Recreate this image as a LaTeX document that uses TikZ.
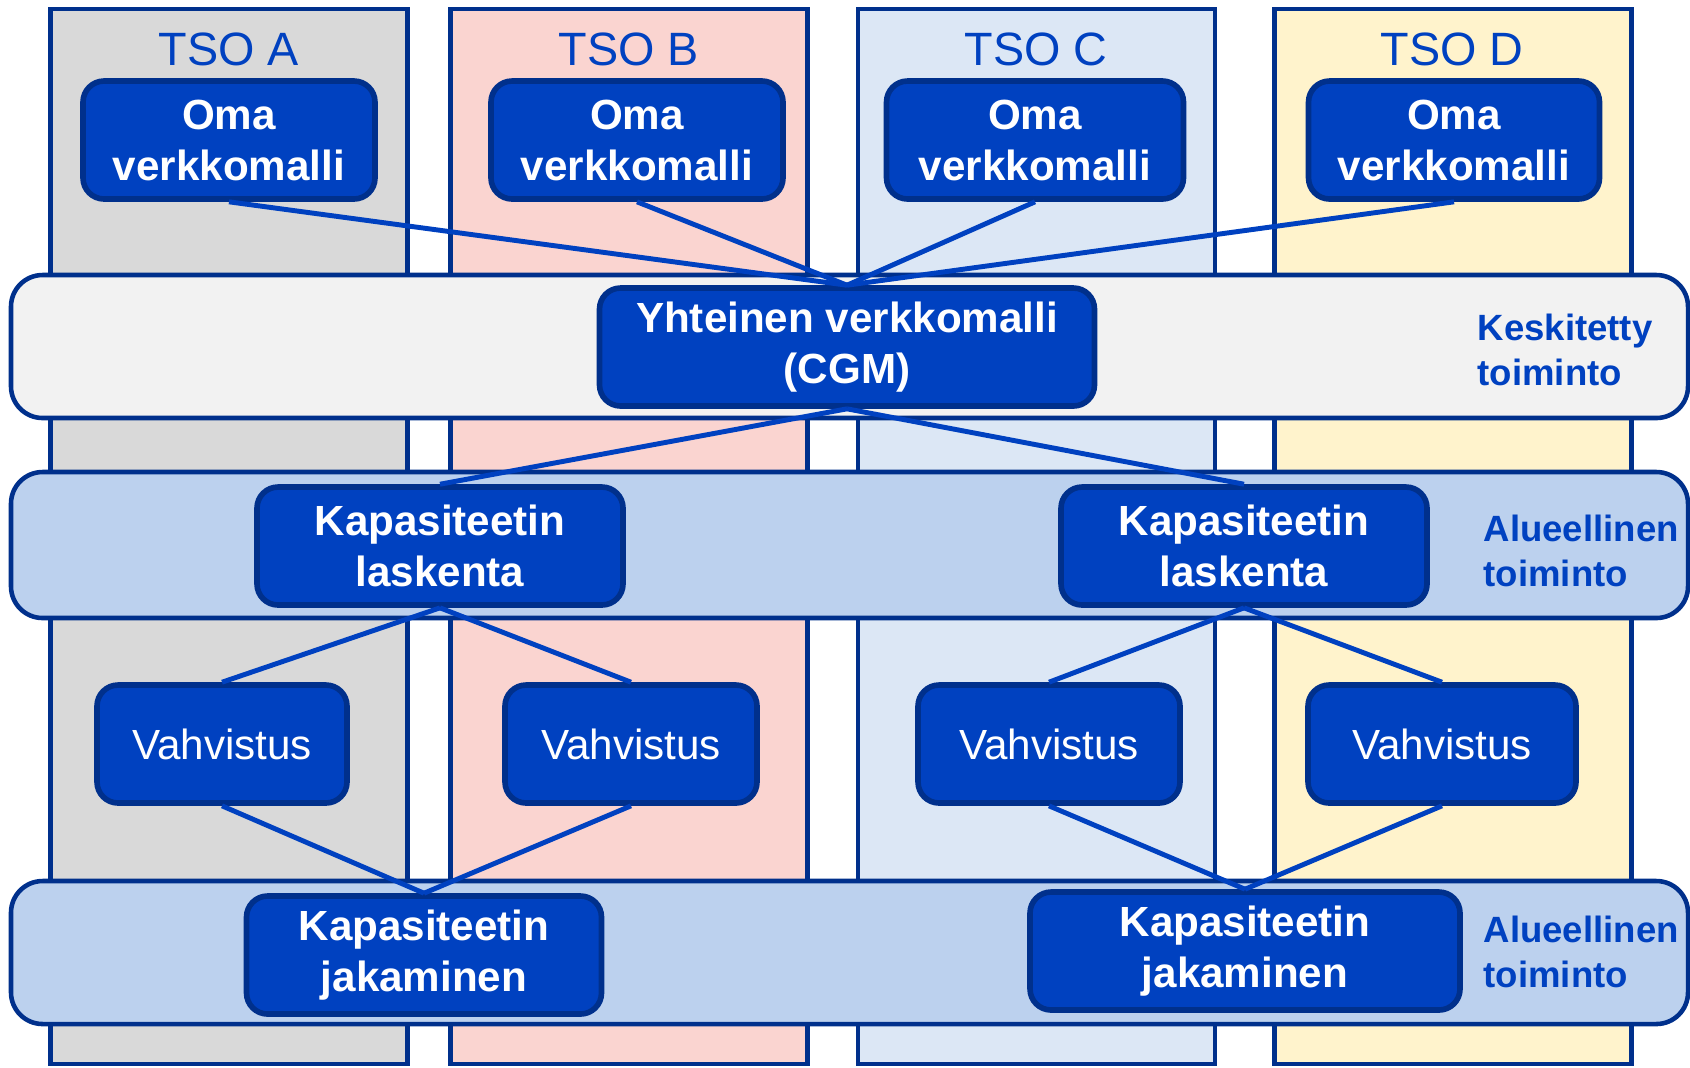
\documentclass[tikz,border=0pt]{standalone}
\usepackage{fontspec}
\setmainfont{Liberation Sans}
\usetikzlibrary{positioning}

\definecolor{boxblue}{HTML}{0041C0}
\definecolor{navy}{HTML}{00308C}
\definecolor{colA}{HTML}{D9D9D9}
\definecolor{colB}{HTML}{FAD4D0}
\definecolor{colC}{HTML}{DCE7F5}
\definecolor{colD}{HTML}{FFF3CC}
\definecolor{bandgray}{HTML}{F2F2F2}
\definecolor{bandblue}{HTML}{BCD1EE}

\begin{document}
\begin{tikzpicture}[
    tsocol/.style={rectangle, draw=navy, line width=1.3pt, minimum width=3.57cm,
                   minimum height=10.55cm, inner sep=0pt},
    band/.style={rectangle, rounded corners=9pt, draw=navy, line width=1.3pt,
                 minimum width=16.77cm, inner sep=0pt},
    box/.style={rectangle, rounded corners=6pt, draw=navy, fill=boxblue, line width=1.6pt,
                minimum height=1.18cm, text=white, align=center, inner sep=0pt,
                font=\fontsize{12}{14.5}\selectfont\bfseries},
    plainbox/.style={box, font=\fontsize{12}{14.5}\selectfont},
    link/.style={draw=boxblue, line width=1.4pt},
    tsolabel/.style={text=boxblue, font=\fontsize{13.3}{16}\selectfont},
    tier/.style={text=boxblue, align=left, anchor=west, inner sep=0pt,
                 font=\fontsize{10.4}{12.8}\selectfont\bfseries}
]
    \useasboundingbox (0,0) rectangle (16.9,-10.67);

    % TSO columns
    \node[tsocol, fill=colA] (colA) at (2.29, -5.365) {};
    \node[tsocol, fill=colB] (colB) at (6.29, -5.365) {};
    \node[tsocol, fill=colC] (colC) at (10.365, -5.365) {};
    \node[tsocol, fill=colD] (colD) at (14.53, -5.365) {};
    \node[tsolabel] (tsoA) at (2.29, -0.49) {TSO A};
    \node[tsolabel] (tsoB) at (6.29, -0.49) {TSO B};
    \node[tsolabel] (tsoC) at (10.36, -0.49) {TSO C};
    \node[tsolabel] (tsoD) at (14.52, -0.49) {TSO D};

    % Function bands
    \node[band, fill=bandgray, minimum height=1.43cm] (central) at (8.495, -3.465) {};
    \node[band, fill=bandblue, minimum height=1.46cm] (regional1) at (8.495, -5.45) {};
    \node[band, fill=bandblue, minimum height=1.43cm] (regional2) at (8.495, -9.525) {};
    \node[tier] (central lbl) at (14.77, -3.495) {Keskitetty\\toiminto};
    \node[tier] (regional1 lbl) at (14.83, -5.505) {Alueellinen\\toiminto};
    \node[tier] (regional2 lbl) at (14.83, -9.515) {Alueellinen\\toiminto};

    % Own models
    \node[box, minimum width=2.92cm] (omaA) at (2.29, -1.40) {Oma\\verkkomalli};
    \node[box, minimum width=2.92cm] (omaB) at (6.37, -1.40) {Oma\\verkkomalli};
    \node[box, minimum width=2.97cm] (omaC) at (10.35, -1.40) {Oma\\verkkomalli};
    \node[box, minimum width=2.91cm] (omaD) at (14.54, -1.40) {Oma\\verkkomalli};

    % Common grid model
    \node[box, minimum width=4.95cm] (cgm) at (8.47, -3.47) {Yhteinen verkkomalli\\(CGM)};

    % Capacity calculation
    \node[box, minimum width=3.66cm] (calcL) at (4.40, -5.46) {Kapasiteetin\\laskenta};
    \node[box, minimum width=3.66cm] (calcR) at (12.44, -5.46) {Kapasiteetin\\laskenta};

    % Validation
    \node[plainbox, minimum width=2.50cm] (valA) at (2.22, -7.44) {Vahvistus};
    \node[plainbox, minimum width=2.52cm] (valB) at (6.31, -7.44) {Vahvistus};
    \node[plainbox, minimum width=2.62cm] (valC) at (10.49, -7.44) {Vahvistus};
    \node[plainbox, minimum width=2.68cm] (valD) at (14.42, -7.44) {Vahvistus};

    % Capacity allocation
    \node[box, minimum width=3.55cm] (shareL) at (4.24, -9.55) {Kapasiteetin\\jakaminen};
    \node[box, minimum width=4.30cm] (shareR) at (12.45, -9.51) {Kapasiteetin\\jakaminen};

    % Connectors
    \foreach \n in {omaA, omaB, omaC, omaD}
        \draw[link] (\n.south) -- (cgm.north);
    \draw[link] (cgm.south) -- (calcL.north);
    \draw[link] (cgm.south) -- (calcR.north);
    \draw[link] (calcL.south) -- (valA.north);
    \draw[link] (calcL.south) -- (valB.north);
    \draw[link] (calcR.south) -- (valC.north);
    \draw[link] (calcR.south) -- (valD.north);
    \draw[link] (valA.south) -- (shareL.north);
    \draw[link] (valB.south) -- (shareL.north);
    \draw[link] (valC.south) -- (shareR.north);
    \draw[link] (valD.south) -- (shareR.north);

\end{tikzpicture}
\end{document}
